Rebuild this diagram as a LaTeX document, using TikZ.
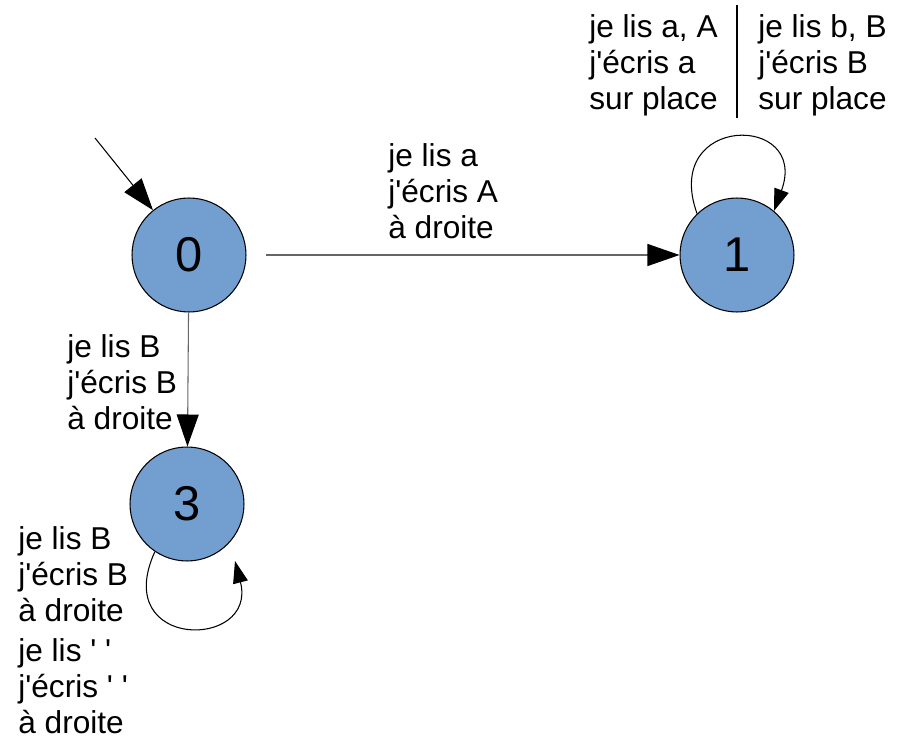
\documentclass[tikz,border=0pt]{standalone}
\usepackage{fontspec}
\setmainfont{Liberation Sans}[Ligatures=TeXOff]
\usetikzlibrary{arrows.meta}
\definecolor{etatbleu}{HTML}{729FCF}

\begin{document}
\begin{tikzpicture}[x=0.02cm, y=-0.02cm,
  etat/.style={circle, draw, fill=etatbleu, line width=0.6pt, minimum size=2.28cm, inner sep=0pt, font=\fontsize{27.8}{30}\selectfont},
  lbl/.style={anchor=north west, inner sep=0pt, align=left, font=\fontsize{18}{20.6}\selectfont},
  fleche/.style={-{Triangle[length=0.64cm, width=0.44cm, color=black]}, line width=0.6pt},
  boucle/.style={-{Triangle[length=0.44cm, width=0.3cm]}, line width=0.6pt}]
  \useasboundingbox (0,0) rectangle (897,743);
  % etats
  \node[etat] (n0) at (189,255) {0};
  \node[etat] (n1) at (737,255) {1};
  \node[etat] (n3) at (187,504) {3};
  \coordinate (debut) at (95,138);
  \coordinate (fin3) at (235,561);
  % transitions
  \draw[fleche] (debut) -- (n0);
  \draw[fleche, black!60, shorten <=0.38cm] (n0) -- (n1);
  \draw[fleche, black!60] (n0) -- (n3);
  \draw[boucle] (n1.134) .. controls +(-36,-100) and +(36,-98) .. (n1.50);
  \draw[boucle] (n3.236) .. controls +(-45,99) and +(23,89) .. (fin3);
  \draw[line width=0.6pt] (737,5) -- (737,118);
  % etiquettes
  \node[lbl] (t01) at (388,143) {je lis a\\j'écris A\\à droite};
  \node[lbl] (t03) at (67,334) {je lis B\\j'écris B\\à droite};
  \node[lbl] (t1a) at (589,14) {je lis a, A\\j'écris a\\sur place};
  \node[lbl] (t1b) at (758,14) {je lis b, B\\j'écris B\\sur place};
  \node[lbl] (t3a) at (18,526) {je lis B\\j'écris B\\à droite};
  \node[lbl] (t3b) at (18,638) {je lis ' '\\j'écris ' '\\à droite};
\end{tikzpicture}
\end{document}
